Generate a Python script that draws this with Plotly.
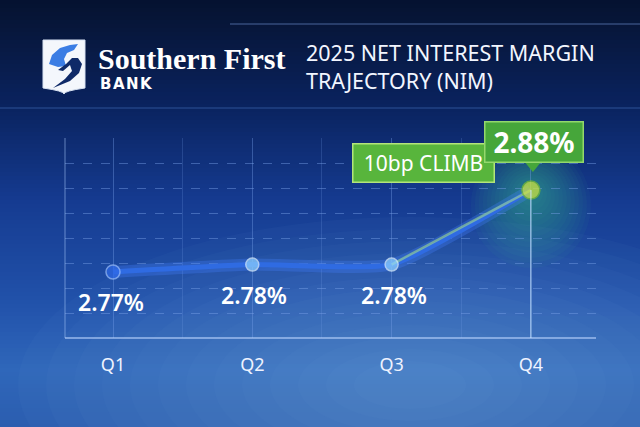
import plotly.graph_objects as go

# ---------------- data ----------------
quarters = ["Q1", "Q2", "Q3", "Q4"]
nim_values = [2.77, 2.78, 2.78, 2.88]
title_lines = ["2025 NET INTEREST MARGIN", "TRAJECTORY (NIM)"]
brand_name = "Southern First"
brand_sub = "BANK"

W, H = 640, 427


def px(x):
    return x / W


def py(y):
    return 1 - y / H


def hexmix(c1, c2, t):
    a = [int(c1[i:i + 2], 16) for i in (1, 3, 5)]
    b = [int(c2[i:i + 2], 16) for i in (1, 3, 5)]
    return "#%02x%02x%02x" % tuple(round(a[k] + (b[k] - a[k]) * t) for k in range(3))


xs = list(range(len(quarters)))

# plot area in pixels
PL, PR, PT, PB = 65, 600, 138, 338
ppu_y = 745.0
y_min = nim_values[0] - (PB - 272) / ppu_y
y_max = y_min + (PB - PT) / ppu_y
ppu_x = 139.3
x_min = 0 - (113 - PL) / ppu_x
x_max = x_min + (PR - PL) / ppu_x

fig = go.Figure()

shapes = []
# background gradient bands
stops = [(0, "#051230"), (30, "#07173c"), (108, "#0a2360"), (200, "#153b90"),
         (300, "#2151aa"), (370, "#2f67ba"), (427, "#2b5daf")]
step = 4
for y in range(0, H, step):
    yc = y + step / 2
    for i in range(len(stops) - 1):
        if stops[i][0] <= yc <= stops[i + 1][0]:
            t = (yc - stops[i][0]) / (stops[i + 1][0] - stops[i][0])
            col = hexmix(stops[i][1], stops[i + 1][1], t)
            break
    shapes.append(dict(type="rect", xref="paper", yref="paper", x0=0, x1=1,
                       y0=py(min(y + step + 0.5, H)), y1=py(y), fillcolor=col,
                       line=dict(width=0), layer="below"))
# soft light at bottom centre
for r in range(40, 300, 20):
    cx, cy = 410, 385
    shapes.append(dict(type="circle", xref="paper", yref="paper",
                       x0=px(cx - r * 1.4), x1=px(cx + r * 1.4), y0=py(cy + r * 0.6), y1=py(cy - r * 0.6),
                       fillcolor="rgba(120,175,240,0.04)", line=dict(width=0), layer="below"))
# decorative header lines
shapes.append(dict(type="line", xref="paper", yref="paper", x0=px(230), x1=1, y0=py(24), y1=py(24),
                   line=dict(color="rgba(130,170,235,0.55)", width=1), layer="below"))
shapes.append(dict(type="line", xref="paper", yref="paper", x0=0, x1=1, y0=py(108), y1=py(108),
                   line=dict(color="rgba(90,140,220,0.45)", width=1), layer="below"))

# logo shield
shield = ("M %f,%f L %f,%f L %f,%f Q %f,%f %f,%f Q %f,%f %f,%f Z" % (
    px(43), py(40), px(85), py(40), px(85), py(88),
    px(64), py(91), px(64), py(94),
    px(64), py(91), px(43), py(88)))
shapes.append(dict(type="path", xref="paper", yref="paper", path=shield,
                   fillcolor="#f4f7fc", line=dict(color="#d8e2f2", width=1)))
light = [(49, 64), (52, 55), (60, 48), (70, 45), (78, 44), (74, 50), (67, 53), (64, 59), (66, 66), (58, 67)]
dark = [(58, 70), (66, 64), (72, 58), (78, 58), (82, 64), (79, 73), (70, 81), (53, 88), (65, 79), (72, 71), (70, 65), (63, 71)]
for pts, col in [(light, "#3b7de4"), (dark, "#0f2a68")]:
    p = "M " + " L ".join("%f,%f" % (px(a), py(b)) for a, b in pts) + " Z"
    shapes.append(dict(type="path", xref="paper", yref="paper", path=p, fillcolor=col, line=dict(width=0)))

# frame lines
shapes.append(dict(type="line", xref="paper", yref="paper", x0=px(PL), x1=px(PL), y0=py(PB), y1=py(PT),
                   line=dict(color="rgba(170,200,250,0.55)", width=1)))
shapes.append(dict(type="line", xref="paper", yref="paper", x0=px(PL), x1=px(596), y0=py(PB), y1=py(PB),
                   line=dict(color="rgba(190,215,255,0.75)", width=1.5)))
# Q4 vertical guide
shapes.append(dict(type="line", xref="x", yref="y", x0=xs[-1], x1=xs[-1], y0=y_min, y1=nim_values[-1],
                   line=dict(color="rgba(200,230,255,0.75)", width=1.2)))
# Q4 glow (soft)
for r in range(8, 62, 4):
    shapes.append(dict(type="circle", xref="x", yref="y", xsizemode="pixel", ysizemode="pixel",
                       xanchor=xs[-1], yanchor=nim_values[-1], x0=-r, x1=r, y0=-r * 1.3, y1=r * 0.8,
                       fillcolor="rgba(70,200,130,0.045)", line=dict(width=0), layer="below"))

# callout pointer (anchored at Q4 point)
shapes.append(dict(type="path", xref="x", yref="y", xsizemode="pixel", ysizemode="pixel",
                   xanchor=xs[-1], yanchor=nim_values[-1], path="M -7,29 L 11,29 L 2,18 Z",
                   fillcolor="#46a63a", line=dict(width=0)))

# line glow + line
fig.add_trace(go.Scatter(x=xs, y=nim_values, mode="lines",
                         line=dict(color="rgba(70,130,255,0.30)", width=12, shape="spline", smoothing=0.5),
                         hoverinfo="skip", showlegend=False))
fig.add_trace(go.Scatter(x=xs, y=nim_values, mode="lines",
                         line=dict(color="#2f6be2", width=5, shape="spline", smoothing=0.5),
                         hoverinfo="skip", showlegend=False))
fig.add_trace(go.Scatter(x=xs[-2:], y=nim_values[-2:], mode="lines", line=dict(color="rgba(170,230,140,0.55)", width=2.5),
                         hoverinfo="skip", showlegend=False))
# markers
fig.add_trace(go.Scatter(x=xs, y=nim_values, mode="markers",
                         marker=dict(size=[14, 13, 13, 18],
                                     color=["#2f6ae8", "#8fd2ff", "#8fd2ff", "#d4e83a"],
                                     line=dict(color=["#9cc0ff", "#e0f4ff", "#e0f4ff", "#7cbc2c"], width=1.5)),
                         hoverinfo="skip", showlegend=False))

annotations = []
# value labels
for i in range(len(quarters) - 1):
    annotations.append(dict(x=xs[i], y=nim_values[i], xref="x", yref="y", text="%.2f%%" % nim_values[i],
                            showarrow=False, yshift=-30, xshift=-2 if i == 0 else 2,
                            font=dict(family="Noto Sans", size=23, color="#ffffff", weight=600)))
# callout texts (boxed)
climb_bp = round((nim_values[-1] - nim_values[-2]) * 100)
annotations.append(dict(x=xs[-1], y=nim_values[-1], xref="x", yref="y", text="%dbp CLIMB" % climb_bp,
                        showarrow=False, xshift=-107, yshift=27, width=138, height=35, borderpad=1,
                        bgcolor="#58b53c", bordercolor="#b3e57a", borderwidth=1.5,
                        font=dict(family="Noto Sans", size=21, color="#ffffff")))
annotations.append(dict(x=xs[-1], y=nim_values[-1], xref="x", yref="y", text="%.2f%%" % nim_values[-1],
                        showarrow=False, xshift=3, yshift=48, width=95, height=37, borderpad=1,
                        bgcolor="#46a63a", bordercolor="#94d86c", borderwidth=1.5,
                        font=dict(family="Noto Sans", size=28, color="#ffffff", weight=700)))
# brand + title
annotations.append(dict(x=px(96), y=py(58), xref="paper", yref="paper", xanchor="left", yanchor="middle",
                        text="<b>%s</b>" % brand_name, showarrow=False,
                        font=dict(family="Liberation Serif", size=30, color="#ffffff")))
annotations.append(dict(x=px(98), y=py(84), xref="paper", yref="paper", xanchor="left", yanchor="middle",
                        text="<b>%s</b>" % "\u200a".join(brand_sub), showarrow=False,
                        font=dict(family="DejaVu Sans", size=15, color="#ffffff")))
annotations.append(dict(x=px(304), y=py(67), xref="paper", yref="paper", xanchor="left", yanchor="middle",
                        align="left", text="<br>".join(title_lines), showarrow=False,
                        font=dict(family="Noto Sans", size=21.5, color="#f2f6ff")))

fig.update_layout(
    width=W, height=H, margin=dict(l=0, r=0, t=0, b=0),
    paper_bgcolor="#0b2563", plot_bgcolor="rgba(0,0,0,0)",
    shapes=shapes, annotations=annotations, showlegend=False,
    xaxis=dict(domain=[px(PL), px(PR)], range=[x_min, x_max], tickmode="array", tickvals=xs, ticktext=quarters,
               showgrid=True, gridcolor="rgba(120,160,230,0.22)", gridwidth=1, zeroline=False, showline=False,
               minor=dict(tickmode="linear", tick0=0, dtick=0.5, showgrid=True,
                          gridcolor="rgba(120,160,230,0.22)", gridwidth=1),
               ticks="", ticklabelstandoff=14,
               tickfont=dict(family="Noto Sans", size=18, color="#eef3ff")),
    yaxis=dict(domain=[py(PB), py(PT)], range=[y_min, y_max], tick0=y_min, dtick=25 / ppu_y,
               showgrid=True, gridcolor="rgba(120,160,230,0.45)", griddash="dash", gridwidth=1,
               zeroline=False, showline=False, showticklabels=False, ticks=""),
)

fig.write_html("out.html", config={"displayModeBar": False},
               post_script="document.body.style.margin='0';document.body.style.overflow='hidden';")
